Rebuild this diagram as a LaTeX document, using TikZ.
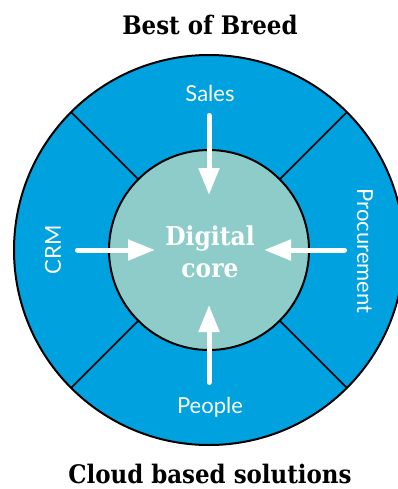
\documentclass[tikz,border=0pt]{standalone}
\usepackage{fontspec}
\setmainfont{Lato}
\newfontfamily\slabfont{DejaVu Serif Condensed}
\usetikzlibrary{arrows.meta}
\definecolor{ringblue}{RGB}{0,161,223}
\definecolor{coreteal}{RGB}{142,204,201}
\begin{document}
\begin{tikzpicture}[x=1pt,y=-1pt,
  title/.style={font=\slabfont\bfseries\fontsize{25.5}{30}\selectfont, text=black, inner sep=0pt, anchor=base},
  seglabel/.style={font=\fontsize{22}{26}\selectfont, text=white, inner sep=0pt},
  corelabel/.style={font=\slabfont\bfseries\fontsize{26}{30}\selectfont, text=white, inner sep=0pt, anchor=base},
  inward/.style={draw=white, line width=5pt, line cap=round, -{Triangle[width=20pt,length=27pt]}},
  divider/.style={draw=black, line width=1.6pt},
  disc/.style={circle, draw=black, line width=2pt, inner sep=0pt, outer sep=0pt}]
\useasboundingbox (0,0) rectangle (398,489);
\clip (0,0) rectangle (398,489);
\coordinate (c) at (209,250);
\node[disc, fill=ringblue, minimum size=390pt] (ring) at (c) {};
\foreach \a in {45,135,225,315}{
  \draw[divider] (c) ++(\a:100pt) coordinate (in\a) -- (ring.\a);
}
\node[disc, fill=coreteal, minimum size=200pt] (core) at (c) {};
% arrows
\coordinate (salesS) at (209,115.5);
\coordinate (salesT) at (209,195);
\coordinate (peopleS) at (209,382.5);
\coordinate (peopleT) at (209,305);
\coordinate (crmS) at (77.5,250);
\coordinate (crmT) at (155,250);
\coordinate (procS) at (344.5,250);
\coordinate (procT) at (264,250);
\draw[inward] (salesS) -- (salesT);
\draw[inward] (peopleS) -- (peopleT);
\draw[inward] (crmS) -- (crmT);
\draw[inward] (procS) -- (procT);
% labels
\node[seglabel, anchor=base] (sales) at (210,102) {Sales};
\node[seglabel, anchor=base] (people) at (210,413) {People};
\node[seglabel, rotate=90] (crm) at (53,250) {CRM};
\node[seglabel, rotate=-90] (proc) at (365,251) {Procurement};
\node[corelabel] (digital) at (210,245) {Digital};
\node[corelabel] (coretxt) at (210,277) {core};
\node[title] (top) at (210,35) {Best of Breed};
\node[title] (bottom) at (210,483) {Cloud based solutions};
\end{tikzpicture}
\end{document}
